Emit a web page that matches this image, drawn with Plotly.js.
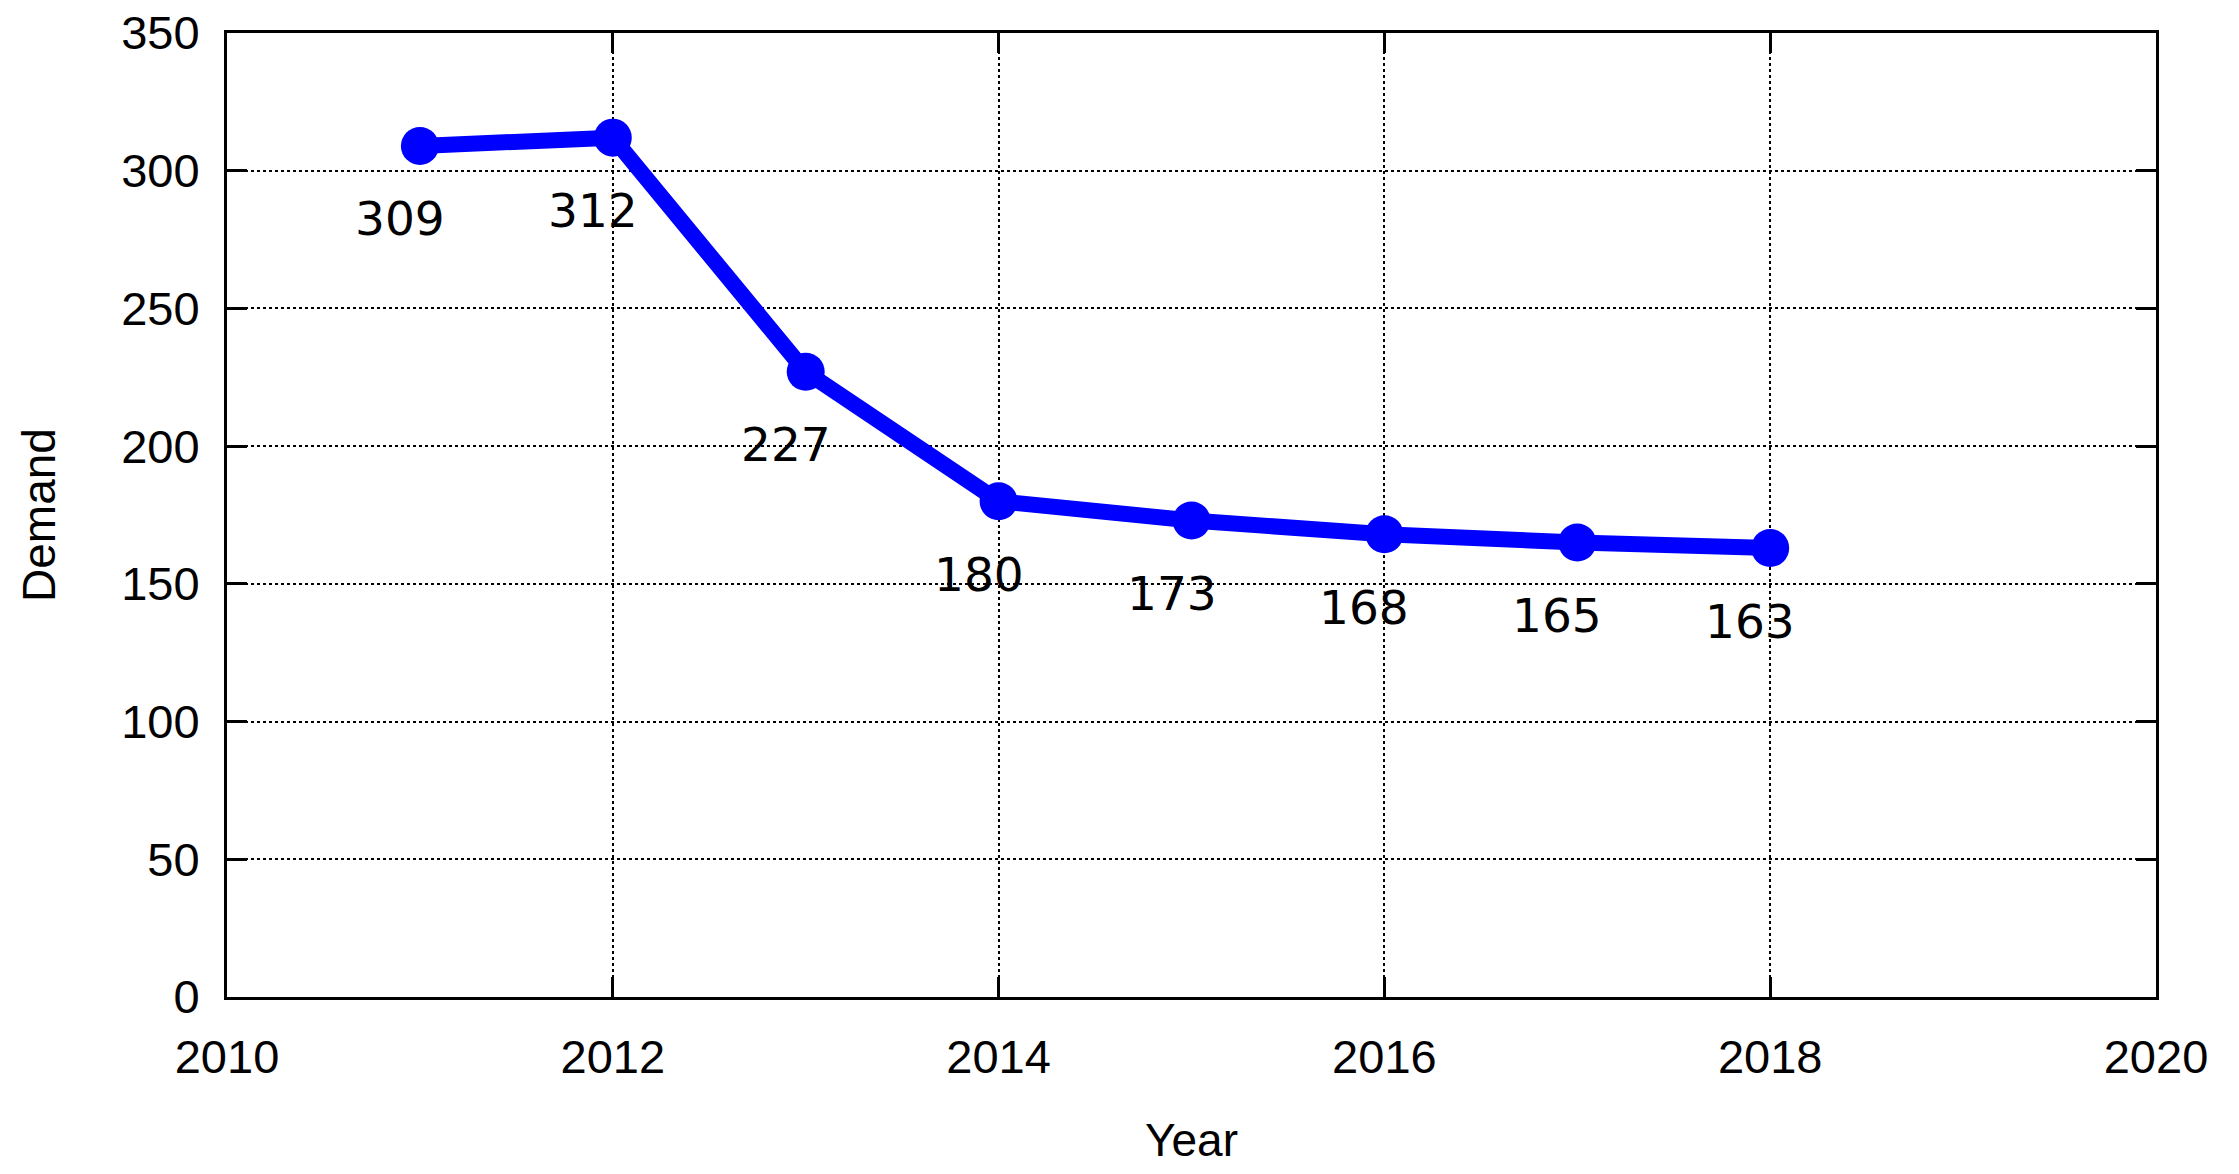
<!DOCTYPE html>
<html>
<head>
<meta charset="utf-8">
<script src="https://cdn.plot.ly/plotly-3.0.1.min.js"></script>
<style>html,body{margin:0;padding:0;background:#fff;}#chart{width:2239px;height:1174px;}</style>
</head>
<body>
<div id="chart"></div>
<script>
const years = [2011, 2012, 2013, 2014, 2015, 2016, 2017, 2018];
const demand = [309, 312, 227, 180, 173, 168, 165, 163];
const xTicks = [2010, 2012, 2014, 2016, 2018, 2020];
const yTicks = [0, 50, 100, 150, 200, 250, 300, 350];

const trace = {
  x: years, y: demand, type: 'scatter', mode: 'lines+markers',
  line: {color: '#0000ff', width: 16},
  marker: {color: '#0000ff', size: 38},
  hoverinfo: 'skip', showlegend: false
};

const annotations = years.map((yr, i) => ({
  x: yr, y: demand[i], text: String(demand[i]), showarrow: false,
  xshift: -20, yshift: -73,
  font: {family: 'DejaVu Sans', size: 47, color: '#000'}
}));

const axisCommon = {
  showline: true, linecolor: '#000', linewidth: 3, mirror: 'allticks',
  ticks: 'inside', ticklen: 20, tickwidth: 3, tickcolor: '#000',
  showgrid: true, gridcolor: '#000', gridwidth: 2, griddash: 'dot',
  zeroline: false,
  tickfont: {family: 'Liberation Sans', size: 47, color: '#000'}
};

const layout = {
  width: 2239, height: 1174,
  margin: {l: 227, r: 83, t: 33, b: 177},
  paper_bgcolor: '#fff', plot_bgcolor: '#fff',
  xaxis: Object.assign({}, axisCommon, {
    range: [2010, 2020], tickvals: xTicks, ticktext: xTicks.map(String),
    ticklabelstandoff: 17,
    title: {text: 'Year', font: {family: 'Liberation Sans', size: 46, color: '#000'}, standoff: 42}
  }),
  yaxis: Object.assign({}, axisCommon, {
    range: [0, 350], tickvals: yTicks, ticktext: yTicks.map(String),
    ticklabelstandoff: 15,
    title: {text: 'Demand', font: {family: 'Liberation Sans', size: 46, color: '#000'}, standoff: 52}
  }),
  annotations: annotations
};

Plotly.newPlot('chart', [trace], layout, {displayModeBar: false, staticPlot: true});
</script>
</body>
</html>
